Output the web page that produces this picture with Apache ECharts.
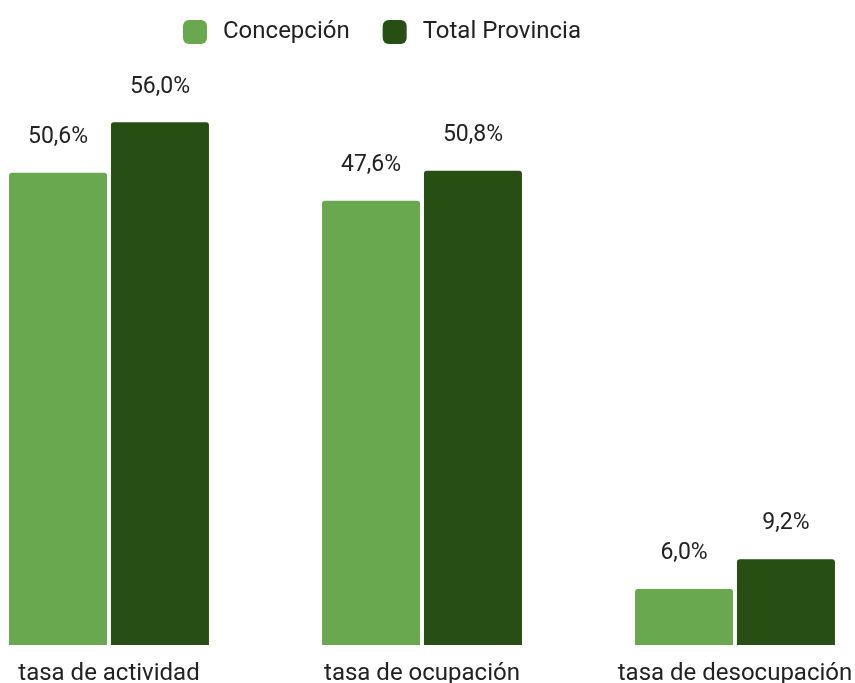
<!DOCTYPE html>
<html>
<head>
<meta charset="utf-8">
<script src="https://cdn.jsdelivr.net/npm/echarts@6/dist/echarts.min.js"></script>
<style>
  html, body { margin: 0; padding: 0; background: #fff; }
  #chart { width: 855px; height: 683px; }
</style>
</head>
<body>
<div id="chart"></div>
<script>
var categories = ['tasa de actividad', 'tasa de ocupación', 'tasa de desocupación'];
var concepcion = [50.6, 47.6, 6.0];
var totalProvincia = [56.0, 50.8, 9.2];
var seriesNames = ['Concepción', 'Total Provincia'];

var myChart = echarts.init(document.getElementById('chart'));

function pct(p) {
    return p.value.toFixed(1).replace('.', ',') + '%';
}

var option = {
    animation: false,
    textStyle: { fontFamily: 'Roboto' },
    color: ['#6aa84f', '#274e13'],
    legend: {
        data: seriesNames,
        top: 15,
        left: 178,
        itemWidth: 24,
        itemHeight: 24,
        itemGap: 33,
        icon: 'roundRect',
        textStyle: { fontSize: 24, color: '#222', fontFamily: 'Roboto', padding: [0, 0, 0, 11] }
    },
    grid: {
        left: -47.5,
        right: -36.5,
        top: 85,
        bottom: 38,
        containLabel: false,
        outerBoundsMode: 'none'
    },
    xAxis: {
        type: 'category',
        data: categories,
        axisLine: { show: false },
        axisTick: { show: false },
        axisLabel: { fontSize: 24, color: '#222', margin: 17, fontFamily: 'Roboto' }
    },
    yAxis: {
        type: 'value',
        min: 0,
        max: 60,
        show: false,
        splitLine: { show: false }
    },
    series: [{
        name: seriesNames[0],
        type: 'bar',
        data: concepcion,
        barWidth: 98,
        barGap: '4%',
        itemStyle: { borderRadius: [3, 3, 0, 0] },
        label: { show: true, position: 'top', distance: 24, fontSize: 23, color: '#222', formatter: pct }
    }, {
        name: seriesNames[1],
        type: 'bar',
        data: totalProvincia,
        barWidth: 98,
        barGap: '4%',
        itemStyle: { borderRadius: [3, 3, 0, 0] },
        label: { show: true, position: 'top', distance: 24, fontSize: 23, color: '#222', formatter: pct }
    }]
};

myChart.setOption(option);
</script>
</body>
</html>
